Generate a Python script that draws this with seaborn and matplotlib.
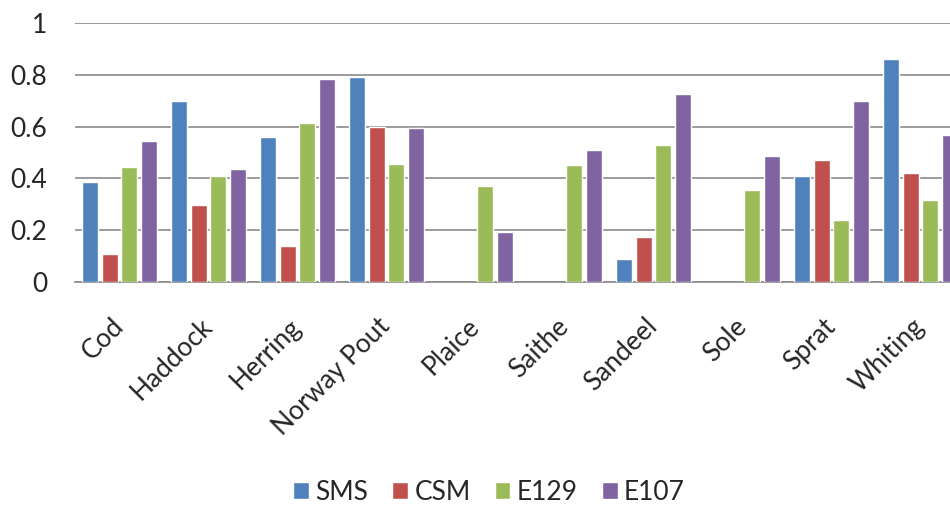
"""
    plot.py
    Grouped bar chart of four model scores per species.
"""
import numpy as np
import pandas as pd
import seaborn as sns
import matplotlib.pyplot as plt

# Data.
SPECIES = ['Cod', 'Haddock', 'Herring', 'Norway Pout', 'Plaice',
           'Saithe', 'Sandeel', 'Sole', 'Sprat', 'Whiting']
MODELS = ['SMS', 'CSM', 'E129', 'E107']
SMS = [0.386, 0.697, 0.560, 0.791, np.nan, np.nan, 0.091, np.nan, 0.410, 0.859]
CSM = [0.109, 0.297, 0.139, 0.600, np.nan, np.nan, 0.175, np.nan, 0.470, 0.421]
E129 = [0.445, 0.410, 0.612, 0.455, 0.371, 0.451, 0.529, 0.357, 0.239, 0.317]
E107 = [0.543, 0.435, 0.782, 0.593, 0.194, 0.508, 0.727, 0.485, 0.697, 0.569]
YTICKS = [0, 0.2, 0.4, 0.6, 0.8, 1]
YTICKLABELS = ['0', '0.2', '0.4', '0.6', '0.8', '1']

PALETTE = {'SMS': '#4f81bd', 'CSM': '#c0504d', 'E129': '#9bbb59', 'E107': '#8064a2'}
GRID = '#8a8a8a'


def main():
    # Build long-form table, dropping missing bars.
    df = pd.DataFrame({'species': SPECIES, 'SMS': SMS, 'CSM': CSM,
                       'E129': E129, 'E107': E107})
    df = df.melt(id_vars='species', var_name='model', value_name='score')
    df = df.dropna()

    sns.set_style('white')
    plt.rcParams['font.family'] = ['Lato', 'DejaVu Sans']

    fig = plt.figure(figsize=(9.5, 5.05), dpi=100)
    # Plot area runs past the right edge, as in the reference.
    ax = fig.add_axes([75 / 950, 0.441, 890 / 950, 0.514])

    sns.barplot(data=df, x='species', y='score', order=SPECIES,
                hue='model', hue_order=MODELS, palette=PALETTE,
                width=0.88, gap=0.2, errorbar=None, saturation=1,
                ax=ax, zorder=3)

    # Axis styling.
    ax.set_ylim(0, 1)
    ax.set_yticks(YTICKS)
    ax.set_yticklabels(YTICKLABELS, fontsize=19)
    ax.yaxis.grid(True, color=GRID, linewidth=1.2, zorder=0)
    ax.set_axisbelow(True)
    for side in ['top', 'right', 'left']:
        ax.spines[side].set_visible(False)
    ax.spines['bottom'].set_color(GRID)
    ax.spines['bottom'].set_linewidth(1.2)
    ax.tick_params(axis='y', length=0, pad=20)
    ax.tick_params(axis='x', length=0, pad=29)
    for lab in ax.get_xticklabels():
        lab.set_rotation(45)
        lab.set_ha('right')
        lab.set_va('center')
        lab.set_rotation_mode('anchor')
        lab.set_fontsize(19)
    ax.set_xlabel('')
    ax.set_ylabel('')

    # Legend below the plot.
    ax.get_legend().remove()
    handles, labels = ax.get_legend_handles_labels()
    fig.legend(handles[:4], labels[:4], loc='center',
               bbox_to_anchor=(489 / 950, 1 - 492 / 505),
               ncol=4, frameon=False, fontsize=19, handlelength=0.6,
               handleheight=0.6, handletextpad=0.25, columnspacing=0.9)

    fig.savefig('out.png', dpi=100)


if __name__ == '__main__':
    main()
